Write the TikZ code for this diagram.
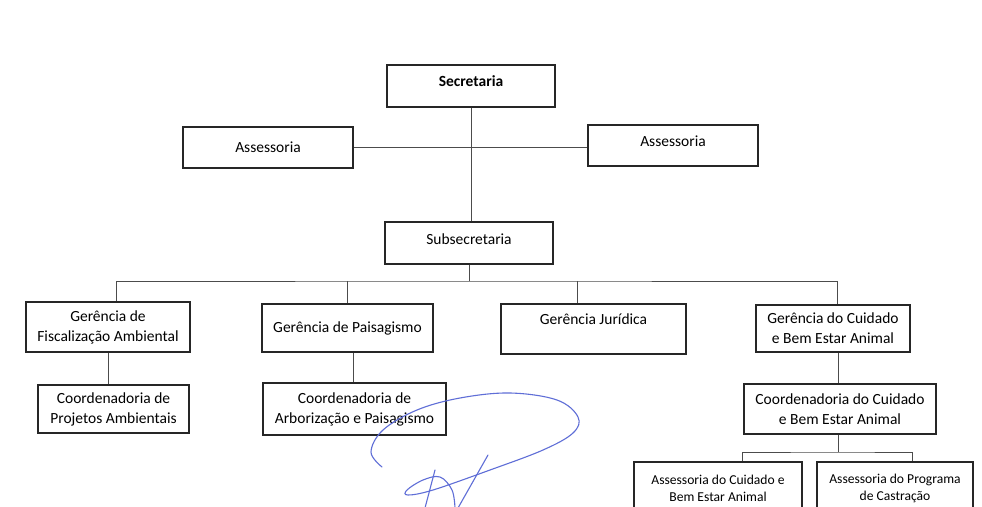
\documentclass[tikz,border=0pt]{standalone}
\usepackage{fontspec}
\setmainfont{Carlito}
\begin{document}
\begin{tikzpicture}
    [
        x=1pt, y=-1pt,
        unit/.style={rectangle, draw=black!85, line width=1.3pt, inner sep=0pt, align=center,
            font=\fontsize{15.5}{20}\selectfont},
        subunit/.style={unit, font=\fontsize{13.6}{17}\selectfont},
        link/.style={draw=black!70, line width=0.8pt},
        sig/.style={draw={rgb,255:red,95;green,110;blue,215}, line width=1.1pt, line cap=round},
    ]
    \clip (0,0) rectangle (982,506);
    \fill[white] (0,0) rectangle (982,506);

    % top
    \node (sec)  at (471,86)    [unit, minimum width=168pt, minimum height=42pt] {\textbf{Secretaria}\\[-10pt]\mbox{}};
    \node (ass1) at (268,147.5) [unit, minimum width=170pt, minimum height=41pt] {Assessoria};
    \node (ass2) at (673,145.5) [unit, minimum width=170pt, minimum height=41pt] {Assessoria\\[-12pt]\mbox{}};
    \node (sub)  at (469,243)   [unit, minimum width=168pt, minimum height=42pt] {Subsecretaria\\[-12pt]\mbox{}};

    \draw[link] (sec.south) -- (sec.south |- sub.north);
    \draw[link] (ass1.east) -- (ass1.east -| ass2.west);

    % gerencias
    \node (gfa) at (108,327)   [unit, minimum width=164pt, minimum height=50pt] {Gerência de\\Fiscalização Ambiental};
    \node (gp)  at (347.5,328) [unit, minimum width=171pt, minimum height=48pt] {Gerência de Paisagismo};
    \node (gj)  at (593.5,329) [unit, minimum width=185pt, minimum height=50pt] {Gerência Jurídica\\\mbox{}};
    \node (gcb) at (833,328.5) [unit, minimum width=154pt, minimum height=47pt] {Gerência do Cuidado\\e Bem Estar Animal};

    \coordinate (bus) at (470,281);
    \draw[link] (sub.south) -- (sub.south |- bus);
    \draw[link] ([xshift=8pt]gfa.north) |- (bus) -| ([xshift=4pt]gcb.north);
    \draw[link] (gp.north) -- (gp.north |- bus);
    \draw[link] ([xshift=-16pt]gj.north) -- ([xshift=-16pt]gj.north |- bus);

    % coordenadorias
    \node (cpa) at (113.5,409) [unit, minimum width=151pt, minimum height=48pt] {Coordenadoria de\\Projetos Ambientais};
    \node (cap) at (354.5,409) [unit, minimum width=183pt, minimum height=52pt] {Coordenadoria de\\Arborização e Paisagismo};
    \node (ccb) at (840,409)   [unit, minimum width=192pt, minimum height=50pt] {Coordenadoria do Cuidado\\e Bem Estar Animal};

    \draw[link] (gfa.south) -- (gfa.south |- cpa.north);
    \draw[link] ([xshift=6pt]gp.south) -- ([xshift=6pt]gp.south |- cap.north);
    \draw[link] ([xshift=5pt]gcb.south) -- ([xshift=5pt]gcb.south |- ccb.north);

    % assessorias
    \node (acb) at (718,488) [subunit, minimum width=168pt, minimum height=52pt] {Assessoria do Cuidado e\\Bem Estar Animal};
    \node (apc) at (895,488) [subunit, minimum width=156pt, minimum height=52pt] {Assessoria do Programa\\de Castração};

    \coordinate (bus2) at (838,452);
    \draw[link] ([xshift=-2pt]ccb.south) -- (bus2);
    \draw[link] ([xshift=24pt]acb.north) |- (bus2) -| ([xshift=17pt]apc.north);

    % rubrica
    \draw[sig] plot[smooth, tension=0.6] coordinates {(382,467) (371,452) (383,430) (417,410) (460,398)
        (510,393) (557,400) (578,417) (573,433) (543,450) (490,470) (433,490) (408,495) (407,490)
        (423,480) (440,477) (452,490) (455,508)};
    \draw[sig] (488,455) -- (458,508);
    \draw[sig] (435,470) -- (425,508);

\end{tikzpicture}
\end{document}
